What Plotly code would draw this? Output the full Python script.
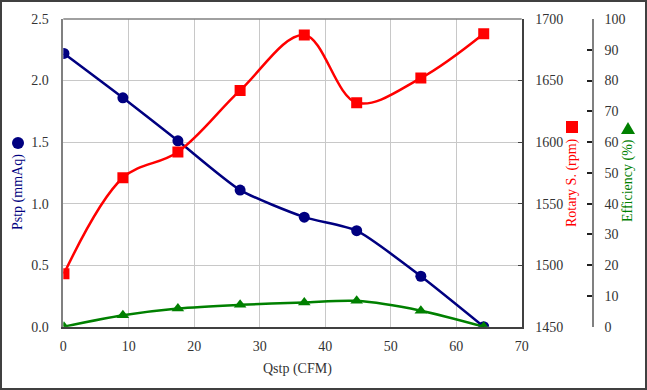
import plotly.graph_objects as go

# ---- data ----
qstp = [0.1, 9.1, 17.5, 27.0, 36.8, 44.8, 54.6, 64.2]
pstp = [2.22, 1.86, 1.51, 1.11, 0.89, 0.78, 0.41, 0.0]
rpm = [1493, 1571, 1592, 1642, 1687, 1632, 1652, 1688]
eff = [0.0, 3.7, 5.9, 7.1, 7.9, 8.4, 5.2, 0.0]

x_ticks = [0, 10, 20, 30, 40, 50, 60, 70]
p_ticks = [0.0, 0.5, 1.0, 1.5, 2.0, 2.5]
r_ticks = [1450, 1500, 1550, 1600, 1650, 1700]
e_ticks = [0, 10, 20, 30, 40, 50, 60, 70, 80, 90, 100]

W, H = 647, 390
NAVY, RED, GREEN = "#000080", "#FF0000", "#008000"
FONT = "Liberation Serif"
TXT = "#333333"

# plot area in pixels
PX0, PX1 = 63.3, 521.7
PY_TOP, PY_BOT = 19.0, 326.7
EFF_AXIS_X = 593.0


def px(x):
    return x / W


def py(y):
    return 1 - y / H


fig = go.Figure()

fig.add_trace(go.Scatter(
    x=qstp, y=pstp, mode="lines+markers", yaxis="y",
    line=dict(color=NAVY, width=2.5, shape="spline", smoothing=0.6),
    marker=dict(symbol="circle", size=11, color=NAVY),
))
fig.add_trace(go.Scatter(
    x=qstp, y=rpm, mode="lines+markers", yaxis="y2",
    line=dict(color=RED, width=2.5, shape="spline", smoothing=1.0),
    marker=dict(symbol="square", size=11, color=RED),
))
fig.add_trace(go.Scatter(
    x=qstp, y=eff, mode="lines+markers", yaxis="y3",
    line=dict(color=GREEN, width=2.5, shape="spline", smoothing=0.8),
    marker=dict(symbol="triangle-up", size=11, color=GREEN),
))

tickfont = dict(family=FONT, size=14, color=TXT)

fig.update_layout(
    width=W, height=H, autosize=False,
    margin=dict(l=0, r=0, t=0, b=0),
    paper_bgcolor="white", plot_bgcolor="white",
    showlegend=False,
    font=dict(family=FONT, size=14, color=TXT),
    xaxis=dict(
        domain=[px(PX0), px(PX1)], range=[0, 70],
        tickvals=x_ticks, ticktext=[str(v) for v in x_ticks],
        showgrid=True, gridcolor="#C8C8C8", gridwidth=1,
        zeroline=False, showline=True, linecolor="#404040", linewidth=1.5,
        ticks="", tickfont=tickfont, ticklabelstandoff=6,
        automargin=False,
    ),
    yaxis=dict(
        domain=[py(PY_BOT), py(PY_TOP)], range=[0, 2.5],
        tickvals=p_ticks, ticktext=[f"{v:.1f}" for v in p_ticks],
        showgrid=True, gridcolor="#C8C8C8", gridwidth=1,
        zeroline=False, showline=True, linecolor="#808080", linewidth=1.5,
        ticks="", tickfont=tickfont, ticklabelstandoff=10,
        automargin=False,
    ),
    yaxis2=dict(
        overlaying="y", side="right", anchor="x", range=[1450, 1700],
        tickvals=r_ticks, ticktext=[str(v) for v in r_ticks],
        showgrid=False, zeroline=False,
        showline=True, linecolor="#404040", linewidth=1.5,
        ticks="inside", ticklen=4, tickcolor="#404040",
        tickfont=tickfont, ticklabelstandoff=9,
        automargin=False,
    ),
    yaxis3=dict(
        overlaying="y", side="right", anchor="free", position=px(EFF_AXIS_X),
        range=[0, 100],
        tickvals=e_ticks, ticktext=[str(v) for v in e_ticks],
        showgrid=False, zeroline=False,
        showline=True, linecolor="#808080", linewidth=1.5,
        ticks="inside", ticklen=5, tickcolor="#202020", tickwidth=1.5,
        tickfont=tickfont, ticklabelstandoff=8,
        automargin=False,
    ),
)

# top border of plot area
fig.add_shape(type="line", xref="paper", yref="paper",
              x0=px(PX0), x1=px(PX1), y0=py(PY_TOP), y1=py(PY_TOP),
              line=dict(color="#808080", width=1.5))
# outer frame
fig.add_shape(type="rect", xref="paper", yref="paper",
              x0=px(1), x1=px(W - 1), y0=py(H - 1), y1=py(1),
              line=dict(color="#404040", width=2))

# axis titles
def title(text, x, y, color, angle=0):
    fig.add_annotation(text=text, xref="paper", yref="paper",
                       x=px(x), y=py(y), xanchor="center", yanchor="middle",
                       textangle=angle, showarrow=False,
                       font=dict(family=FONT, size=14, color=color))


title("Qstp (CFM)", 297, 369, TXT)
title("Pstp (mmAq)", 18, 192, NAVY, -90)
title("Rotary S. (rpm)", 572, 183, RED, -90)
title("Efficiency (%)", 628, 181, GREEN, -90)

# title symbols
fig.add_shape(type="circle", xref="paper", yref="paper",
              x0=px(12), x1=px(24), y0=py(149), y1=py(137),
              fillcolor=NAVY, line=dict(width=0))
fig.add_shape(type="rect", xref="paper", yref="paper",
              x0=px(566), x1=px(578), y0=py(133), y1=py(121),
              fillcolor=RED, line=dict(width=0))
fig.add_shape(type="path", xref="paper", yref="paper",
              path=f"M {px(621)} {py(134)} L {px(635)} {py(134)} L {px(628)} {py(122)} Z",
              fillcolor=GREEN, line=dict(width=0))

fig.write_html(
    "out.html",
    config={"displayModeBar": False},
    post_script="document.body.style.margin='0';document.body.style.overflow='hidden';",
)
